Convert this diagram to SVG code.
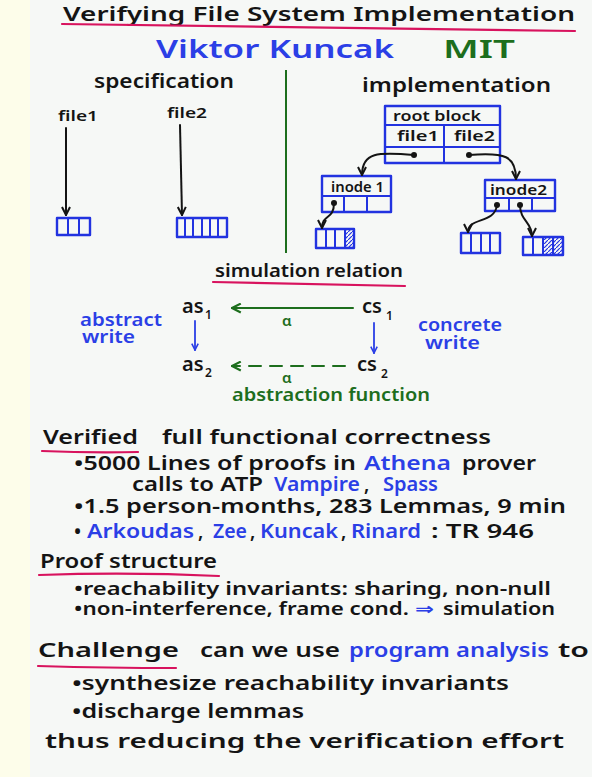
<svg xmlns="http://www.w3.org/2000/svg" width="592" height="777" viewBox="0 0 592 777">
<defs>
<style>
text{font-family:"Noto Sans","DejaVu Sans",sans-serif;font-weight:600}
.k{fill:#141414}.b{fill:#2b3fe6}.g{fill:#1d6e1d}
.t{font-size:20px}.n{font-size:25px}.h{font-size:19px}.s{font-size:15px}.m{font-size:14px}
.body{font-size:19px}.tight{font-size:17px}.sim{font-size:17px}.st{font-size:20px}.sub{font-size:12px}.al{font-size:15px}
.box{fill:none;stroke:#2233e0;stroke-width:2.4;stroke-linejoin:round}
.ln{stroke:#2233e0;stroke-width:2}
.ul{fill:none;stroke:#d8135e;stroke-width:2.2;stroke-linecap:round}
.ck{fill:none;stroke:#141414;stroke-width:2;stroke-linecap:round}
.cg{fill:none;stroke:#1d6e1d;stroke-width:2;stroke-linecap:round}
.cb{fill:none;stroke:#2b3fe6;stroke-width:1.8;stroke-linecap:round}
.dot{fill:#141414}
</style>
<marker id="ak" viewBox="0 0 10 10" refX="9" refY="5" markerWidth="10" markerHeight="10" markerUnits="userSpaceOnUse" orient="auto"><path d="M1,1 L9,5 L1,9" fill="none" stroke="#141414" stroke-width="2"/></marker>
<marker id="ag" viewBox="0 0 10 10" refX="9" refY="5" markerWidth="11" markerHeight="11" markerUnits="userSpaceOnUse" orient="auto"><path d="M1,1 L9,5 L1,9" fill="none" stroke="#1d6e1d" stroke-width="2"/></marker>
<marker id="ab" viewBox="0 0 10 10" refX="9" refY="5" markerWidth="8" markerHeight="8" markerUnits="userSpaceOnUse" orient="auto"><path d="M1,1 L9,5 L1,9" fill="none" stroke="#2b3fe6" stroke-width="2"/></marker>
<pattern id="hatch" patternUnits="userSpaceOnUse" width="4" height="4"><path d="M-1,5 L5,-1" stroke="#2233e0" stroke-width="1.2"/></pattern>
</defs>
<rect width="592" height="777" fill="#f6f8f6"/>
<rect width="30" height="777" fill="#fdfdea"/>

<g id="title">
<text class="k t" x="63" y="21" textLength="512" lengthAdjust="spacingAndGlyphs">Verifying File System Implementation</text>
<path class="ul" d="M62,24 Q300,27 575,31"/>
<text class="b n" x="156" y="58" textLength="238" lengthAdjust="spacingAndGlyphs">Viktor Kuncak</text>
<text class="g n" x="443" y="58" textLength="72" lengthAdjust="spacingAndGlyphs">MIT</text>
</g>

<line x1="286" y1="70" x2="286" y2="253" stroke="#1d6e1d" stroke-width="2"/>

<g id="spec">
<text class="k h" x="94" y="88" textLength="140" lengthAdjust="spacingAndGlyphs">specification</text>
<g id="spec-file1"><text class="k s" x="58" y="121" textLength="40" lengthAdjust="spacingAndGlyphs">file1</text>
<rect class="box" x="57" y="218" width="33" height="17"/><path class="ln" d="M68,218V235M79,218V235"/></g>
<g id="spec-file2"><text class="k s" x="167" y="118" textLength="40" lengthAdjust="spacingAndGlyphs">file2</text>
<rect class="box" x="177" y="218" width="50" height="19"/><path class="ln" d="M185,218V237M193,218V237M202,218V237M210,218V237M218,218V237"/></g>
</g>

<g id="impl">
<text class="k h" x="362" y="92" textLength="189" lengthAdjust="spacingAndGlyphs">implementation</text>
<g id="root-block">
<rect class="box" x="385" y="106" width="115" height="57"/>
<path class="ln" d="M385,125H500M385,147H500M444,125V163"/>
<text class="k s" x="393" y="121" textLength="88" lengthAdjust="spacingAndGlyphs">root block</text>
<text class="k s" x="397" y="141" textLength="42" lengthAdjust="spacingAndGlyphs">file1</text>
<text class="k s" x="454" y="141" textLength="41" lengthAdjust="spacingAndGlyphs">file2</text>
</g>
<g id="inode1">
<rect class="box" x="322" y="176" width="69" height="36"/>
<path class="ln" d="M322,196H391M344,196V212M367,196V212"/>
<text class="k m" x="331" y="192" textLength="53" lengthAdjust="spacingAndGlyphs">inode 1</text>
</g>
<g id="inode2">
<rect class="box" x="485" y="180" width="70" height="31"/>
<path class="ln" d="M485,198H555M509,198V211M532,198V211"/>
<text class="k m" x="490" y="195" textLength="57" lengthAdjust="spacingAndGlyphs">inode2</text>
</g>
<g id="block1">
<rect x="345" y="229" width="9" height="19" fill="url(#hatch)"/>
<rect class="box" x="316" y="229" width="38" height="19"/>
<path class="ln" d="M326,229V248M335,229V248M345,229V248"/>
</g>
<g id="block2">
<rect class="box" x="461" y="233" width="39" height="20"/>
<path class="ln" d="M471,233V253M481,233V253M490,233V253"/>
</g>
<g id="block3">
<rect x="543" y="237" width="20" height="18" fill="url(#hatch)"/>
<rect class="box" x="523" y="237" width="40" height="18"/>
<path class="ln" d="M533,237V255M543,237V255M553,237V255"/>
</g>
</g>

<g id="sim">
<text class="k sim" x="215" y="277" textLength="188" lengthAdjust="spacingAndGlyphs">simulation relation</text>
<path class="ul" d="M213,282 Q300,284 405,286"/>
<g id="as1"><text class="k st" x="182" y="313">as</text><text class="k sub" x="205" y="319">1</text></g>
<g id="cs1"><text class="k st" x="362" y="313">cs</text><text class="k sub" x="386" y="320">1</text></g>
<g id="as2"><text class="k st" x="182" y="371">as</text><text class="k sub" x="205" y="377">2</text></g>
<g id="cs2"><text class="k st" x="357" y="371">cs</text><text class="k sub" x="381" y="378">2</text></g>
<text class="b sim" x="80" y="326" textLength="82" lengthAdjust="spacingAndGlyphs">abstract</text>
<text class="b sim" x="82" y="343" textLength="53" lengthAdjust="spacingAndGlyphs">write</text>
<text class="b sim" x="418" y="331" textLength="84" lengthAdjust="spacingAndGlyphs">concrete</text>
<text class="b sim" x="425" y="349" textLength="55" lengthAdjust="spacingAndGlyphs">write</text>
<text class="g al" x="282" y="326">α</text>
<text class="g al" x="282" y="383">α</text>
<text class="g sim" x="232" y="401" textLength="198" lengthAdjust="spacingAndGlyphs">abstraction function</text>
</g>

<g id="connectors">
<path class="ck" d="M66,128 L66,215" marker-end="url(#ak)"/>
<path class="ck" d="M180,125 L182,215" marker-end="url(#ak)"/>
<circle class="dot" cx="414" cy="155" r="3"/>
<path class="ck" d="M414,155 C378,152 362,152 362,175" marker-end="url(#ak)"/>
<circle class="dot" cx="469" cy="155" r="3"/>
<path class="ck" d="M469,155 C505,152 516,156 516,179" marker-end="url(#ak)"/>
<circle class="dot" cx="334" cy="203" r="3"/>
<path class="ck" d="M334,203 C334,220 322,214 322,228" marker-end="url(#ak)"/>
<circle class="dot" cx="497" cy="205" r="3"/>
<path class="ck" d="M497,205 C495,224 468,217 468,232" marker-end="url(#ak)"/>
<circle class="dot" cx="520" cy="205" r="3"/>
<path class="ck" d="M520,205 C520,221 532,222 532,236" marker-end="url(#ak)"/>
<path class="cg" d="M353,308 L232,308" marker-end="url(#ag)"/>
<path class="cg" d="M345,366 L232,366" stroke-dasharray="12,9" marker-end="url(#ag)"/>
<path class="cb" d="M195,321 L195,350" marker-end="url(#ab)"/>
<path class="cb" d="M374,323 L374,353" marker-end="url(#ab)"/>
</g>

<g id="text-body">
<text class="k body" x="43" y="444" textLength="95" lengthAdjust="spacingAndGlyphs">Verified</text>
<path class="ul" d="M42,451 Q90,453 138,452"/>
<text class="k body" x="162" y="444" textLength="329" lengthAdjust="spacingAndGlyphs">full functional correctness</text>
<text class="k body" x="74" y="470" textLength="282" lengthAdjust="spacingAndGlyphs">•5000 Lines of proofs in</text>
<text class="b body" x="364" y="470" textLength="87" lengthAdjust="spacingAndGlyphs">Athena</text>
<text class="k body" x="462" y="470" textLength="74" lengthAdjust="spacingAndGlyphs">prover</text>
<text class="k body" x="132" y="491" textLength="131" lengthAdjust="spacingAndGlyphs">calls to ATP</text>
<text class="b body" x="274" y="491" textLength="86" lengthAdjust="spacingAndGlyphs">Vampire</text>
<text class="k body" x="364" y="491">,</text>
<text class="b body" x="383" y="491" textLength="55" lengthAdjust="spacingAndGlyphs">Spass</text>
<text class="k body" x="74" y="513" textLength="492" lengthAdjust="spacingAndGlyphs">•1.5 person-months, 283 Lemmas, 9 min</text>
<text class="k body" x="74" y="538">•</text>
<text class="b body" x="87" y="538" textLength="107" lengthAdjust="spacingAndGlyphs">Arkoudas</text>
<text class="k body" x="198" y="538">,</text>
<text class="b body" x="213" y="538" textLength="34" lengthAdjust="spacingAndGlyphs">Zee</text>
<text class="k body" x="250" y="538">,</text>
<text class="b body" x="260" y="538" textLength="78" lengthAdjust="spacingAndGlyphs">Kuncak</text>
<text class="k body" x="341" y="538">,</text>
<text class="b body" x="351" y="538" textLength="70" lengthAdjust="spacingAndGlyphs">Rinard</text>
<text class="k body" x="431" y="538" textLength="103" lengthAdjust="spacingAndGlyphs">: TR 946</text>
<text class="k body" x="40" y="568" textLength="177" lengthAdjust="spacingAndGlyphs">Proof structure</text>
<path class="ul" d="M39,575 Q130,572 219,576"/>
<text class="k tight" x="74" y="595" textLength="477" lengthAdjust="spacingAndGlyphs">•reachability invariants: sharing, non-null</text>
<text class="k tight" x="74" y="615" textLength="335" lengthAdjust="spacingAndGlyphs">•non-interference, frame cond.</text>
<text class="b tight" x="415" y="615" textLength="19" lengthAdjust="spacingAndGlyphs">⇒</text>
<text class="k tight" x="443" y="615" textLength="112" lengthAdjust="spacingAndGlyphs">simulation</text>
<text class="k body" x="38" y="657" textLength="141" lengthAdjust="spacingAndGlyphs">Challenge</text>
<path class="ul" d="M38,666 Q110,668 176,668"/>
<text class="k body" x="200" y="657" textLength="140" lengthAdjust="spacingAndGlyphs">can we use</text>
<text class="b body" x="349" y="657" textLength="200" lengthAdjust="spacingAndGlyphs">program analysis</text>
<text class="k body" x="558" y="657" textLength="31" lengthAdjust="spacingAndGlyphs">to</text>
<text class="k body" x="72" y="690" textLength="437" lengthAdjust="spacingAndGlyphs">•synthesize reachability invariants</text>
<text class="k body" x="72" y="718" textLength="232" lengthAdjust="spacingAndGlyphs">•discharge lemmas</text>
<text class="k body" x="45" y="748" textLength="519" lengthAdjust="spacingAndGlyphs">thus reducing the verification effort</text>
</g>
</svg>
